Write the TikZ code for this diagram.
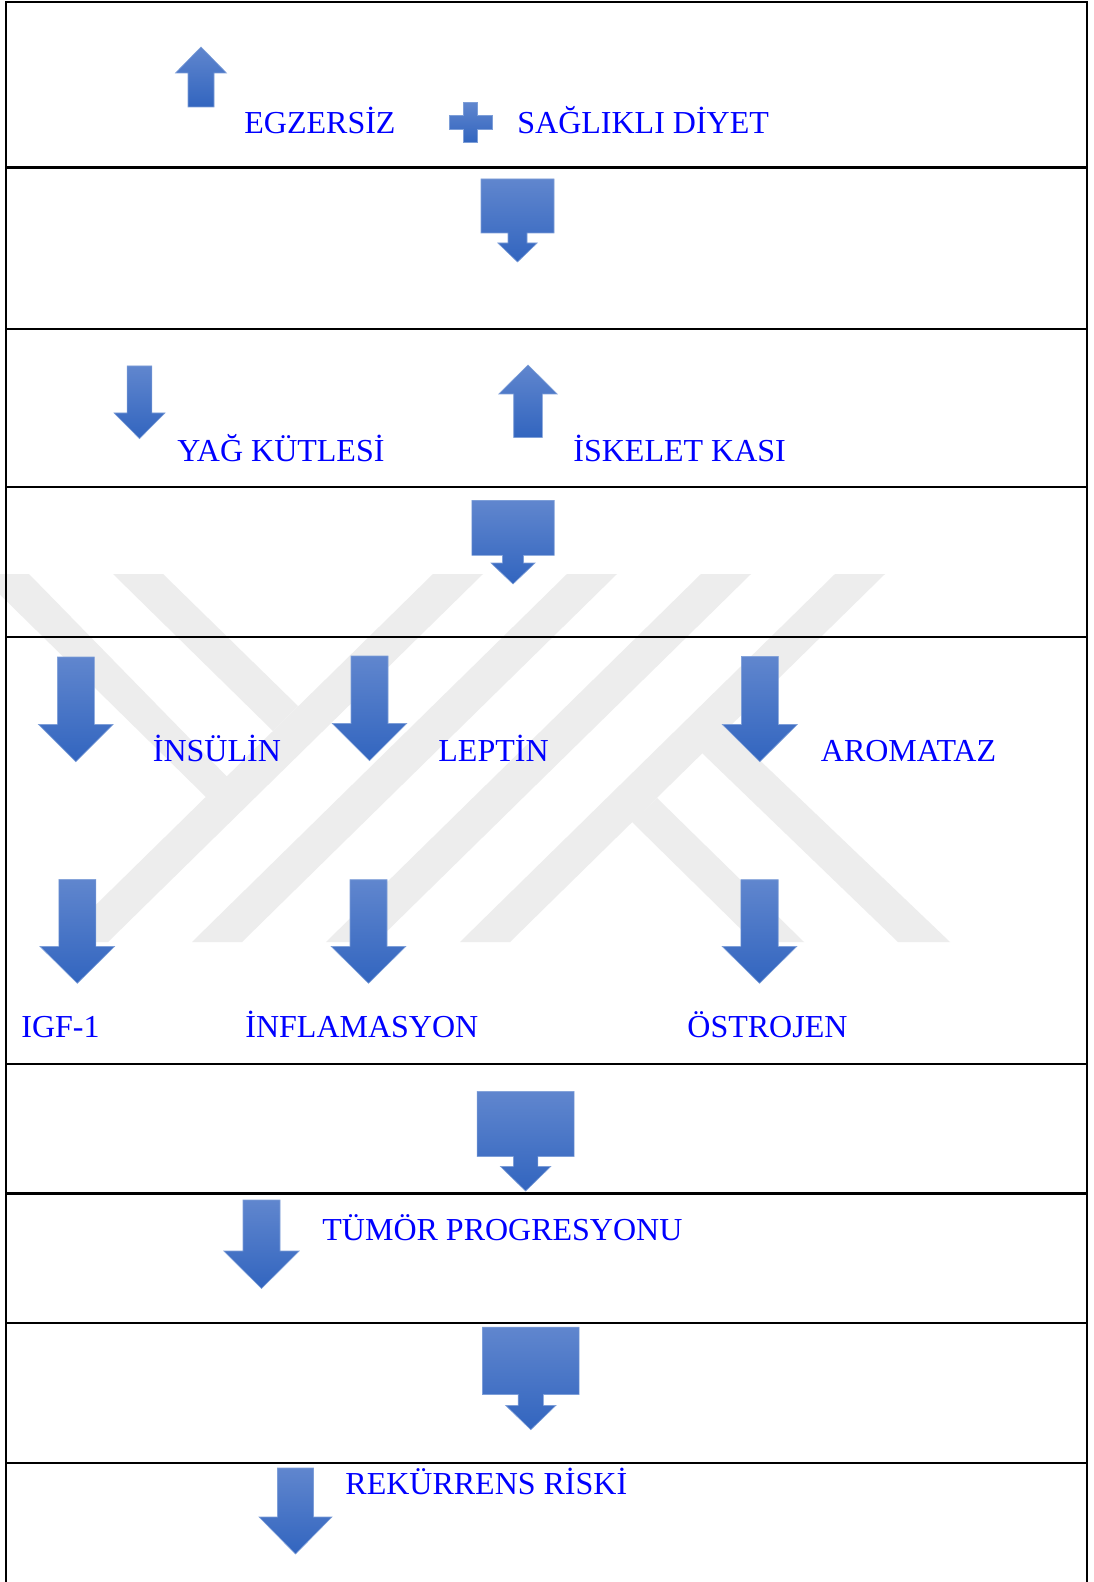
\documentclass[tikz,border=0pt]{standalone}
\usepackage{fontspec}
\setmainfont{Liberation Serif}
\definecolor{txtblue}{RGB}{0,0,255}
\definecolor{arrtop}{RGB}{96,134,206}
\definecolor{arrbot}{RGB}{50,101,191}
\definecolor{arredge}{RGB}{125,158,216}
\definecolor{wmgray}{RGB}{237,237,237}
% down/up block arrow: cx, shaft half, head half, shaft end, head base, tip
\newcommand{\simplearrow}[6]{%
  \shade[arrowstyle] ({#1-#2},#4) -- ({#1+#2},#4) -- ({#1+#2},#5) -- ({#1+#3},#5) -- (#1,#6) -- ({#1-#3},#5) -- ({#1-#2},#5) -- cycle;}
% process arrow: cx, rect half, top, rect bottom, stem half, stem end, head half, tip
\newcommand{\boxarrow}[8]{%
  \shade[arrowstyle] ({#1-#2},#3) -- ({#1+#2},#3) -- ({#1+#2},#4) -- ({#1+#5},#4) -- ({#1+#5},#6) -- ({#1+#7},#6) -- (#1,#8) -- ({#1-#7},#6) -- ({#1-#5},#6) -- ({#1-#5},#4) -- ({#1-#2},#4) -- cycle;}
\tikzset{
  arrowstyle/.style={top color=arrtop, bottom color=arrbot, draw=arredge, line width=0.3pt},
  frameline/.style={line width=1.1pt, draw=black},
  lbl/.style={anchor=base west, inner sep=0pt, text=txtblue, font=\fontsize{16}{19}\selectfont},
  wm/.style={fill=wmgray}
}
\begin{document}
\begin{tikzpicture}[x=0.5pt,y=-0.5pt]
\useasboundingbox (0,0) rectangle (1093,1582);
\fill[white] (0,0) rectangle (1093,1582);

% watermark
\fill[wm] (-21,574) -- (29,574) -- (240,790) -- (206,797) -- cycle;
\fill[wm] (113,574) -- (163,574) -- (298,706) -- (273,731) -- cycle;
\fill[wm] (433,574) -- (483,574) -- (108,942) -- (58,942) -- cycle;
\fill[wm] (567,574) -- (617,574) -- (242,942) -- (192,942) -- cycle;
\fill[wm] (701,574) -- (751,574) -- (376,942) -- (326,942) -- cycle;
\fill[wm] (835,574) -- (885,574) -- (510,942) -- (460,942) -- cycle;
\fill[wm] (632,822) -- (754,942) -- (804,942) -- (657,798) -- cycle;
\fill[wm] (702,753) -- (898,942) -- (950,942) -- (727,729) -- cycle;

% frame
\draw[frameline] (6,2) -- (1087,2);
\draw[frameline] (6,1.5) -- (6,1582);
\draw[frameline] (1087,1.5) -- (1087,1582);
\foreach \yy in {167.5,329,487,637,1063.7,1193.5,1322.8,1463}
  \draw[frameline] (6,\yy) -- (1087,\yy);

% row 1
\simplearrow{201}{13}{25.5}{107}{73}{47}
\shade[arrowstyle] (463.7,102.3) -- (477.7,102.3) -- (477.7,115.3) -- (492.3,115.3) -- (492.3,129) -- (477.7,129) -- (477.7,142.3) -- (463.7,142.3) -- (463.7,129) -- (449,129) -- (449,115.3) -- (463.7,115.3) -- cycle;
\node[lbl] (egz) at (244,134) {EGZERSİZ};
\node[lbl] (diyet) at (517,134) {SAĞLIKLI DİYET};

% row 2
\boxarrow{517.5}{36.5}{179}{233}{9.5}{243}{19.7}{262}

% row 3
\simplearrow{139.5}{12.4}{25.5}{366}{413}{438.6}
\node[lbl] (yag) at (177,462) {YAĞ KÜTLESİ};
\simplearrow{528}{14.3}{29.2}{437.5}{394}{365}
\node[lbl] (kas) at (573,462) {İSKELET KASI};

% row 4
\boxarrow{513}{41.2}{500.5}{555.3}{10.5}{563}{22}{584}

% row 5
\simplearrow{75.8}{18.5}{37.4}{657}{724.3}{761.7}
\simplearrow{369.5}{18.5}{37.2}{656}{723.5}{760.7}
\simplearrow{759.8}{18.5}{37.4}{656.3}{724.5}{761.7}
\node[lbl] (insulin) at (152.5,761) {İNSÜLİN};
\node[lbl] (leptin) at (438,761) {LEPTİN};
\node[lbl] (aromataz) at (820.5,761) {AROMATAZ};
\simplearrow{77.3}{18.5}{37.4}{879.3}{946.3}{983.3}
\simplearrow{368.5}{18.5}{37.4}{879.7}{946.3}{983.3}
\simplearrow{759.5}{18.7}{37.4}{879.7}{946.3}{983.3}
\node[lbl] (igf) at (21,1037.5) {IGF-1};
\node[lbl] (infl) at (245,1037.5) {İNFLAMASYON};
\node[lbl] (ostr) at (687,1037.5) {ÖSTROJEN};

% row 6
\boxarrow{525.6}{48.5}{1091.4}{1156.5}{12.2}{1166.4}{25.2}{1191}

% row 7
\simplearrow{261.5}{18.5}{37.7}{1200}{1251}{1288.5}
\node[lbl] (tumor) at (322,1240) {TÜMÖR PROGRESYONU};

% row 8
\boxarrow{530.8}{48.3}{1327.2}{1394.5}{12.6}{1405.3}{25.2}{1429.7}

% row 9
\simplearrow{295.5}{18}{36.4}{1468}{1517}{1554}
\node[lbl] (rekur) at (345,1494) {REKÜRRENS RİSKİ};
\end{tikzpicture}
\end{document}
